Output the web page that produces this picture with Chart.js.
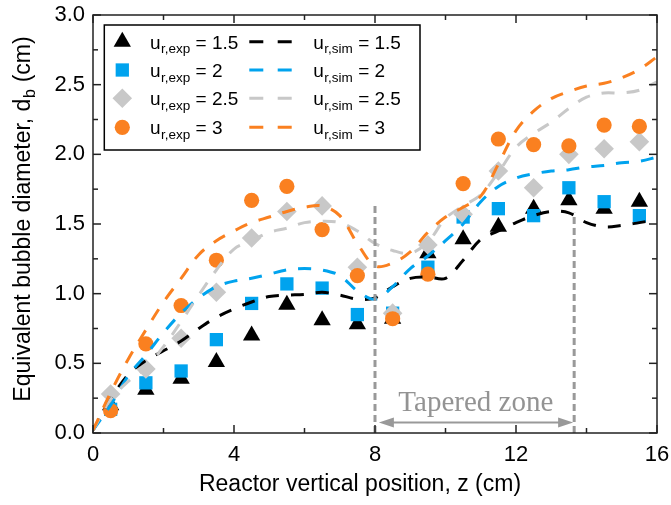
<!DOCTYPE html>
<html>
<head>
<meta charset="utf-8">
<script src="https://cdn.jsdelivr.net/npm/chart.js@4.4.1/dist/chart.umd.min.js"></script>
<style>
html,body{margin:0;padding:0;background:#fff;}
#wrap{width:671px;height:505px;position:relative;}
</style>
</head>
<body>
<div id="wrap"><canvas id="c" width="671" height="505"></canvas></div>
<script>
// ---------- DATA ----------
const urValues = ['1.5', '2', '2.5', '3'];
const expZ = [0.5,1.5,2.5,3.5,4.5,5.5,6.5,7.5,8.5,9.5,10.5,11.5,12.5,13.5,14.5,15.5];
const expD_15 = [0.20,0.31,0.39,0.51,0.70,0.92,0.81,0.78,0.82,1.29,1.39,1.48,1.61,1.67,1.61,1.66];
const expD_2  = [0.17,0.36,0.445,0.67,0.93,1.07,1.04,0.85,0.86,1.19,1.55,1.61,1.56,1.76,1.66,1.56];
const expD_25 = [0.28,0.46,0.68,1.01,1.40,1.59,1.63,1.19,0.86,1.35,1.57,1.88,1.76,2.00,2.04,2.09];
const expD_3  = [0.16,0.64,0.915,1.24,1.67,1.77,1.46,1.13,0.82,1.14,1.79,2.11,2.07,2.06,2.21,2.20];

const simZ = [0,0.5,1,1.5,2,2.5,3,3.5,4,4.5,5,5.5,6,6.5,7,7.5,8,8.5,9,9.5,10,10.5,11,11.5,12,12.5,13,13.5,14,14.5,15,15.5,16];
const simD_15 = [0.02,0.24,0.42,0.52,0.59,0.66,0.75,0.83,0.89,0.94,0.98,0.99,0.995,1.01,0.99,0.96,0.97,1.05,1.11,1.12,1.11,1.24,1.39,1.45,1.51,1.56,1.59,1.58,1.51,1.48,1.49,1.51,1.53];
const simD_2  = [0.02,0.20,0.41,0.56,0.72,0.86,0.97,1.05,1.09,1.11,1.14,1.17,1.18,1.17,1.13,1.02,0.96,1.05,1.18,1.27,1.38,1.50,1.66,1.77,1.83,1.86,1.88,1.89,1.91,1.92,1.94,1.95,1.98];
const simD_25 = [0.02,0.24,0.37,0.47,0.62,0.80,0.99,1.17,1.32,1.38,1.44,1.47,1.51,1.52,1.51,1.45,1.36,1.31,1.29,1.37,1.54,1.63,1.71,1.87,2.05,2.15,2.23,2.33,2.41,2.44,2.44,2.46,2.52];
const simD_3  = [0.02,0.29,0.53,0.74,0.94,1.11,1.28,1.38,1.45,1.51,1.55,1.59,1.62,1.63,1.56,1.36,1.20,1.22,1.30,1.44,1.55,1.62,1.70,1.93,2.17,2.31,2.40,2.45,2.49,2.51,2.55,2.61,2.70];

const taperZ = [8.0, 13.65];          // vertical dashed boundaries
const taperTop = [1.64, 1.58];        // their top ends
const arrowZ = [8.11, 13.62];
const arrowD = 0.076;
const taperLabel = 'Tapered zone';
const taperLabelPos = [10.86, 0.155];

const xTicks = [0,4,8,12,16];
const xMinor = [2,6,10,14];
const yTicks = [0,0.5,1.0,1.5,2.0,2.5,3.0];
const yMinor = [0.25,0.75,1.25,1.75,2.25,2.75];

const xTitle = 'Reactor vertical position, z (cm)';
const yTitle = ['Equivalent bubble diameter, d', 'b', ' (cm)'];

// ---------- STYLE ----------
const FONT = '"Liberation Sans", Arial, Helvetica, sans-serif';
const SERIF = '"Liberation Serif", "Times New Roman", serif';
const colors = ['#000000', '#00a3ee', '#c8c8c8', '#fa8020'];
const markers = [
  {style:'triangle', r:10},
  {style:'rect', r:9.4},
  {style:'rectRot', r:9.8},
  {style:'circle', r:7.6}
];
const expSeries = [expD_15, expD_2, expD_25, expD_3];
const simSeries = [simD_15, simD_2, simD_25, simD_3];

const toPts = (xs, ys) => xs.map((x,i)=>({x:x, y:ys[i]}));

const datasets = [];
for (let i = 3; i >= 0; i--) {
  datasets.push({
    label: 'sim ' + urValues[i],
    data: toPts(simZ, simSeries[i]),
    showLine: true, pointRadius: 0,
    borderColor: colors[i], borderWidth: 3, borderDash: [13, 12],
    tension: 0.35, fill: false, order: 10 + (3 - i)
  });
}
for (let i = 3; i >= 0; i--) {
  datasets.push({
    label: 'exp ' + urValues[i],
    data: toPts(expZ, expSeries[i]),
    showLine: false,
    pointStyle: markers[i].style, pointRadius: markers[i].r,
    backgroundColor: colors[i], borderWidth: 0, pointBorderWidth: 0,
    order: 20 + (3 - i)
  });
}
for (let k = 0; k < 2; k++) {
  datasets.push({
    label: 'taper' + k,
    data: [{x: taperZ[k], y: 0}, {x: taperZ[k], y: taperTop[k]}],
    showLine: true, pointRadius: 0,
    borderColor: '#999999', borderWidth: 3, borderDash: [7, 4],
    order: 1
  });
}

const decoPlugin = {
  id: 'customDeco',
  afterDatasetsDraw(chart) {
    const ctx = chart.ctx, xs = chart.scales.x, ys = chart.scales.y;
    const ay = ys.getPixelForValue(arrowD);
    const ax1 = xs.getPixelForValue(arrowZ[0]), ax2 = xs.getPixelForValue(arrowZ[1]);
    ctx.save();
    ctx.strokeStyle = '#999999'; ctx.fillStyle = '#999999'; ctx.lineWidth = 2;
    ctx.beginPath(); ctx.moveTo(ax1 + 10, ay); ctx.lineTo(ax2 - 10, ay); ctx.stroke();
    ctx.beginPath(); ctx.moveTo(ax1, ay); ctx.lineTo(ax1 + 15, ay - 5); ctx.lineTo(ax1 + 15, ay + 5); ctx.closePath(); ctx.fill();
    ctx.beginPath(); ctx.moveTo(ax2, ay); ctx.lineTo(ax2 - 15, ay - 5); ctx.lineTo(ax2 - 15, ay + 5); ctx.closePath(); ctx.fill();
    ctx.font = '29px ' + SERIF; ctx.textAlign = 'center'; ctx.textBaseline = 'alphabetic';
    ctx.fillStyle = '#939393';
    ctx.fillText(taperLabel, xs.getPixelForValue(taperLabelPos[0]), ys.getPixelForValue(taperLabelPos[1]));
    ctx.restore();
  },
  afterDraw(chart) {
    const ctx = chart.ctx, xs = chart.scales.x, ys = chart.scales.y, ca = chart.chartArea;
    ctx.save();
    ctx.strokeStyle = '#222222'; ctx.lineWidth = 1.5;
    ctx.strokeRect(ca.left, ca.top, ca.right - ca.left, ca.bottom - ca.top);
    const tick = (x1,y1,x2,y2)=>{ctx.beginPath();ctx.moveTo(x1,y1);ctx.lineTo(x2,y2);ctx.stroke();};
    xTicks.forEach(v=>{const p=xs.getPixelForValue(v); tick(p,ca.bottom,p,ca.bottom-8); tick(p,ca.top,p,ca.top+8);});
    xMinor.forEach(v=>{const p=xs.getPixelForValue(v); tick(p,ca.bottom,p,ca.bottom-5); tick(p,ca.top,p,ca.top+5);});
    yTicks.forEach(v=>{const p=ys.getPixelForValue(v); tick(ca.left,p,ca.left+8,p); tick(ca.right,p,ca.right-8,p);});
    yMinor.forEach(v=>{const p=ys.getPixelForValue(v); tick(ca.left,p,ca.left+5,p); tick(ca.right,p,ca.right-5,p);});

    ctx.fillStyle = '#000';
    ctx.font = '23px ' + FONT; ctx.textAlign = 'center'; ctx.textBaseline = 'alphabetic';
    ctx.fillText(xTitle, 360, 491);
    ctx.save();
    ctx.translate(30, 219); ctx.rotate(-Math.PI/2);
    ctx.textAlign = 'left';
    const fMain = '23px ' + FONT, fSub = '16px ' + FONT;
    ctx.font = fMain; const w1 = ctx.measureText(yTitle[0]).width; const w3 = ctx.measureText(yTitle[2]).width;
    ctx.font = fSub; const w2 = ctx.measureText(yTitle[1]).width;
    let sx = -(w1 + w2 + w3 + 1) / 2;
    ctx.font = fMain; ctx.fillText(yTitle[0], sx, 0); sx += w1 + 0.5;
    ctx.font = fSub; ctx.fillText(yTitle[1], sx, 5); sx += w2 + 0.5;
    ctx.font = fMain; ctx.fillText(yTitle[2], sx, 0);
    ctx.restore();

    const L = {left:104.3, top:25, right:420, bottom:150};
    ctx.fillStyle = '#fff';
    ctx.fillRect(L.left, L.top, L.right-L.left, L.bottom-L.top);
    ctx.strokeStyle = '#000'; ctx.lineWidth = 1.5;
    ctx.strokeRect(L.left, L.top, L.right-L.left, L.bottom-L.top);
    const rowY = [41.7, 70, 98.3, 127.3];
    const drawLabel = (x, base, sub, val) => {
      ctx.fillStyle = '#000'; ctx.textAlign = 'left'; ctx.textBaseline = 'alphabetic';
      ctx.font = '19px ' + FONT; ctx.fillText('u', x, base);
      let w = ctx.measureText('u').width;
      ctx.font = '13.5px ' + FONT; ctx.fillText(sub, x + w + 0.5, base + 4.5);
      let w2 = ctx.measureText(sub).width;
      ctx.font = '19px ' + FONT; ctx.fillText(' = ' + val, x + w + 0.5 + w2, base);
    };
    for (let i = 0; i < 4; i++) {
      const y = rowY[i];
      ctx.fillStyle = colors[i];
      Chart.helpers.drawPoint(ctx, {pointStyle: markers[i].style, radius: markers[i].r, rotation: 0, borderWidth: 0}, 122.3, y);
      drawLabel(150, y + 7, 'r,exp', urValues[i]);
      ctx.save();
      ctx.strokeStyle = colors[i]; ctx.lineWidth = 3; ctx.setLineDash([14, 14.4]);
      ctx.beginPath(); ctx.moveTo(249.3, y); ctx.lineTo(292.3, y); ctx.stroke();
      ctx.restore();
      drawLabel(313.3, y + 7, 'r,sim', urValues[i]);
    }
    ctx.restore();
  }
};

new Chart(document.getElementById('c'), {
  type: 'scatter',
  data: { datasets },
  options: {
    responsive: false, maintainAspectRatio: false, animation: false,
    layout: { padding: { top: 15, right: 14, left: 0, bottom: 0 } },
    plugins: { legend: {display:false}, tooltip: {enabled:false} },
    scales: {
      x: {
        type: 'linear', min: 0, max: 16,
        afterBuildTicks: s => { s.ticks = xTicks.map(v => ({value: v})); },
        afterFit: s => { s.height = 72; s.paddingLeft = 0; s.paddingRight = 0; },
        grid: {display:false, drawTicks:false}, border: {display:false},
        ticks: {font:{size:22, family:FONT}, color:'#000', padding:9, maxRotation:0, autoSkip:false}
      },
      y: {
        type: 'linear', min: 0, max: 3,
        afterBuildTicks: s => { s.ticks = yTicks.map(v => ({value: v})); },
        afterFit: s => { s.width = 93; s.paddingTop = 0; s.paddingBottom = 0; },
        grid: {display:false, drawTicks:false}, border: {display:false},
        ticks: {font:{size:22, family:FONT}, color:'#000', padding:8, autoSkip:false, callback: v => Number(v).toFixed(1)}
      }
    }
  },
  plugins: [decoPlugin]
});
</script>
</body>
</html>
